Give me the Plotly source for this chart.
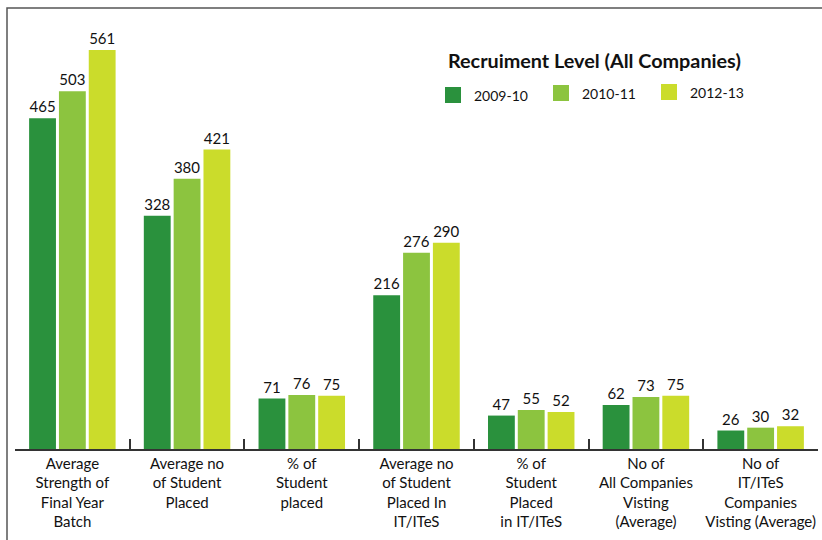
import plotly.graph_objects as go

categories = ["Average<br>Strength of<br>Final Year<br>Batch",
              "Average no<br>of Student<br>Placed",
              "% of<br>Student<br>placed",
              "Average no<br>of Student<br>Placed In<br>IT/ITeS",
              "% of<br>Student<br>Placed<br>in IT/ITeS",
              "No of<br>All Companies<br>Visting<br>(Average)",
              "No of<br>IT/ITeS<br>Companies<br>Visting (Average)"]
series_names = ["2009-10", "2010-11", "2012-13"]
values_2009 = [465, 328, 71, 216, 47, 62, 26]
values_2010 = [503, 380, 76, 276, 55, 73, 30]
values_2012 = [561, 421, 75, 290, 52, 75, 32]
colors = ["#2A913D", "#8CC43F", "#CBDC2B"]

W, H = 822, 540
L, R, T, B = 15, 4, 8, 91
pw, ph = W - L - R, H - T - B


def px(x):  # pixel -> paper x
    return (x - L) / pw


def py(y):  # pixel -> paper y
    return (H - B - y) / ph


fig = go.Figure()
for name, vals, col in zip(series_names, [values_2009, values_2010, values_2012], colors):
    fig.add_trace(go.Bar(x=categories, y=vals, name=name, marker_color=col,
                         marker_line_width=0, text=vals, textposition="outside",
                         constraintext="none",
                         textfont=dict(size=15, color="#111"), cliponaxis=False))

# frame around the chart
shapes = [dict(type="rect", xref="paper", yref="paper", x0=px(7), x1=px(840),
               y0=py(560), y1=py(8), line=dict(color="#555", width=1.5), layer="below")]
annotations = [dict(text="<b>Recruiment Level (All Companies)</b>", xref="paper", yref="paper",
                    x=px(446), y=py(60), xanchor="left", yanchor="middle", showarrow=False,
                    font=dict(size=19.8, color="#111"))]

# hand-made legend
leg_sq = [(445, 87), (553, 85), (661, 84)]
for (sx, sy), name, col in zip(leg_sq, series_names, colors):
    shapes.append(dict(type="rect", xref="paper", yref="paper", x0=px(sx), x1=px(sx + 16),
                       y0=py(sy + 16), y1=py(sy), fillcolor=col, line_width=0))
    annotations.append(dict(text=name, xref="paper", yref="paper", x=px(sx + 27), y=py(sy + 8),
                            xanchor="left", yanchor="middle", showarrow=False,
                            font=dict(size=14, color="#111")))

fig.update_layout(width=W, height=H, margin=dict(l=L, r=R, t=T, b=B),
                  barmode="group", bargap=0.22, bargroupgap=0.1,
                  paper_bgcolor="white", plot_bgcolor="white",
                  font=dict(family="Lato", color="#111"),
                  showlegend=False, shapes=shapes, annotations=annotations)

fig.update_xaxes(type="category", showline=True, linecolor="#333", linewidth=1.5,
                 ticks="inside", tickson="boundaries", ticklen=10, tickcolor="#333",
                 tickwidth=1.5, tickfont=dict(size=15, color="#111"), showgrid=False,
                 tickangle=0, automargin=False)
fig.update_yaxes(range=[0, 620], visible=False, showgrid=False, zeroline=False,
                 automargin=False)

fig.write_html("out.html", config={"displayModeBar": False},
               post_script="document.body.style.margin='0';")
